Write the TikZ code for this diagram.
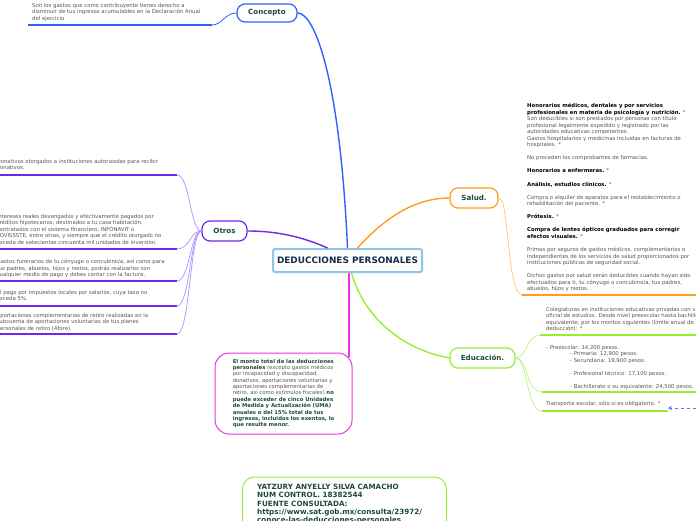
\documentclass[tikz,border=0pt]{standalone}
\usepackage{fontspec}
\setmainfont{DejaVu Sans}
\usetikzlibrary{arrows.meta}
\definecolor{cblue}{HTML}{3060FF}
\definecolor{corange}{HTML}{FF9D1C}
\definecolor{corangel}{HTML}{FFC880}
\definecolor{cgreen}{HTML}{99EE33}
\definecolor{cgreenl}{HTML}{C4F38C}
\definecolor{cpurple}{HTML}{6A2AE8}
\definecolor{cpurplel}{HTML}{B49AFF}
\definecolor{cpink}{HTML}{EE33DD}
\definecolor{ccentral}{HTML}{8EC5E8}
\definecolor{lgreen}{HTML}{1D4A3A}
\definecolor{cnavy}{HTML}{1B2B4D}
\definecolor{tgray}{HTML}{555555}
\definecolor{darrow}{HTML}{4A80E0}
\newcommand\hb[1]{\textbf{\color{black}#1}}
\newcommand\gb[1]{\textbf{\color{lgreen}#1}}
\begin{document}
\begin{tikzpicture}[x=1pt,y=-1pt,
  topic/.style={draw, rounded corners=8pt, line width=1.2pt, fill=white, inner sep=0pt,
    font=\bfseries\fontsize{7.1}{8}\selectfont, text=lgreen},
  txt/.style={inner sep=0pt, align=left, anchor=north west, text=tgray,
    font=\fontsize{5.35}{6.55}\selectfont},
  mainline/.style={line width=1.4pt},
  twig/.style={line width=0.8pt},
  uline/.style={line width=1.8pt}
]
\useasboundingbox (0,0) rectangle (696,520);
\clip (0,0) rectangle (696,520);

% central node
\node[draw=ccentral, line width=2pt, rounded corners=2pt, fill=white, minimum width=149pt, minimum height=23pt,
  inner sep=0pt, font=\bfseries\fontsize{8.9}{10}\selectfont, text=cnavy] (c) at (347.5,260.5) {DEDUCCIONES PERSONALES};

% topic nodes
\node[topic, draw=cblue, minimum width=60pt, minimum height=18pt] (concepto) at (267,13) {Concepto};
\node[topic, draw=corange, minimum width=48pt, minimum height=20pt] (salud) at (474,198) {Salud.};
\node[topic, draw=cgreen, minimum width=65pt, minimum height=20pt] (educ) at (482.5,358) {Educación.};
\node[topic, draw=cpurple, minimum width=45pt, minimum height=20pt] (otros) at (224.5,231) {Otros};

% main connectors
\draw[cblue, mainline] (c.north) .. controls (340,80) and (315,13) .. (concepto.east);
\draw[corange, mainline] ([xshift=10pt]c.north) .. controls (390,212) and (420,198) .. (salud.west);
\draw[cpurple, mainline] ([xshift=-20pt]c.north) .. controls (305,238) and (280,231) .. (otros.east);
\draw[cgreen, mainline] ([xshift=4pt]c.south) .. controls (365,320) and (405,350) .. (educ.west);

% pink node
\node[draw=cpink, line width=1pt, rounded corners=14pt, fill=white, minimum width=137pt, minimum height=81pt,
  inner sep=0pt, align=left, text=tgray, font=\fontsize{5.3}{6.35}\selectfont] (pink) at (283.5,393.5)
  {\gb{El monto total de las deducciones}\\
   \gb{personales} (excepto gastos médicos\\
   por incapacidad y discapacidad,\\
   donativos, aportaciones voluntarias y\\
   aportaciones complementarias de\\
   retiro, así como estímulos fiscales) \gb{no}\\
   \gb{puede exceder de cinco Unidades}\\
   \gb{de Medida y Actualización (UMA)}\\
   \gb{anuales o del 15\% total de tus}\\
   \gb{ingresos, incluidos los exentos, lo}\\
   \gb{que resulte menor.}};
\draw[cpink, mainline] ([xshift=1.5pt]c.south) -- ([xshift=1.5pt,yshift=-4pt]c.south |- pink.north);

% bottom node
\node[draw=cgreen, line width=1pt, rounded corners=12pt, minimum width=204pt, minimum height=62pt] (fuente) at (344.5,508) {};
\node[inner sep=0pt, align=left, anchor=north west, text=lgreen, font=\bfseries\fontsize{7.2}{8.3}\selectfont] (fuentetxt) at (257,484)
  {YATZURY ANYELLY SILVA CAMACHO\\
   NUM CONTROL. 18382544\\
   FUENTE CONSULTADA:\\
   https://www.sat.gob.mx/consulta/23972/\\
   conoce-las-deducciones-personales};

% Concepto branch
\coordinate (cu) at (212,25);
\coordinate (cu0) at (28,25);
\draw[cblue, twig] (concepto.west) .. controls (225,13) and (222,25) .. (cu);
\draw[cblue, uline] (cu) -- (cu0);
\node[txt] (conceptotxt) at (32,3) {Son los gastos que como contribuyente tienes derecho a\\
  disminuir de tus ingresos acumulables en la Declaración Anual\\
  del ejercicio};

% Salud branch
\coordinate (su) at (522,295);
\coordinate (su1) at (696,295);
\draw[corangel, twig] (salud.east) .. controls (510,198) and (506,292) .. (su);
\draw[corange, uline] (su) -- (su1);
\node[txt] (saludtxt) at (527,103) {%
  \hb{Honorarios médicos, dentales y por servicios}\\
  \hb{profesionales en materia de psicología y nutrición.} *\\
  Son deducibles si son prestados por personas con título\\
  profesional legalmente expedido y registrado por las\\
  autoridades educativas competentes.\\
  Gastos hospitalarios y medicinas incluidas en facturas de\\
  hospitales. *\\[6.55pt]
  No proceden los comprobantes de farmacias.\\[6.55pt]
  \hb{Honorarios a enfermeras.} *\\[6.55pt]
  \hb{Análisis, estudios clínicos.} *\\[6.55pt]
  Compra o alquiler de aparatos para el restablecimiento o\\
  rehabilitación del paciente. *\\[6.55pt]
  \hb{Prótesis.} *\\[6.55pt]
  \hb{Compra de lentes ópticos graduados para corregir}\\
  \hb{efectos visuales.} *\\[6.55pt]
  Primas por seguros de gastos médicos, complementarios o\\
  independientes de los servicios de salud proporcionados por\\
  instituciones públicas de seguridad social.\\[6.55pt]
  Dichos gastos por salud serán deducibles cuando hayan sido\\
  efectuados para ti, tu cónyuge o concubino/a, tus padres,\\
  abuelos, hijos y nietos.};

% Educacion branches
\coordinate (e1) at (540,335);
\coordinate (e1b) at (696,335);
\coordinate (e2) at (542,392);
\coordinate (e2b) at (696,392);
\coordinate (e3) at (542,411);
\coordinate (e3b) at (668,411);
\draw[cgreenl, twig] (educ.east) .. controls (527,358) and (526,336) .. (e1);
\draw[cgreenl, twig] (educ.east) .. controls (528,358) and (526,392) .. (e2);
\draw[cgreenl, twig] (educ.east) .. controls (528,358) and (526,411) .. (e3);
\draw[cgreen, uline] (e1) -- (e1b);
\draw[cgreen, uline] (e2) -- (e2b);
\draw[cgreen, uline] (e3) -- (e3b);
\node[txt] (edutxt) at (546,307) {Colegiaturas en instituciones educativas privadas con validez\\
  oficial de estudios. Desde nivel preescolar hasta bachillerato o su\\
  equivalente, por los montos siguientes (límite anual de\\
  deducción): *};
\node[txt] (edulist) at (546,345) {- Preescolar: 14,200 pesos.\\
  \hspace*{24pt}- Primaria: 12,900 pesos.\\
  \hspace*{24pt}- Secundaria: 19,900 pesos.\\[6.55pt]
  \hspace*{24pt}- Profesional técnico: 17,100 pesos.\\[6.55pt]
  \hspace*{24pt}- Bachillerato o su equivalente: 24,500 pesos.};
\node[txt] (transtxt) at (546,401) {Transporte escolar, sólo si es obligatorio. *};
\coordinate (arrstart) at (696,408);
\draw[darrow, line width=0.8pt, dashed, -{Stealth[length=4pt,width=4pt]}] (arrstart) -- (668,408);

% Otros branches
\foreach \yy/\nm in {175/o1, 249/o2, 281/o3, 306/o4, 334/o5}{
  \coordinate (\nm) at (177,\yy);
  \draw[cpurplel, twig] (otros.west) .. controls (190,231) and (190,\yy) .. (\nm);
  \draw[cpurple, uline] (\nm) -- (-5,\yy);
}
\node[txt] (ot1) at (-3.5,159) {Donativos otorgados a instituciones autorizadas para recibir\\
  donativos.};
\node[txt] (ot2) at (-3.5,214) {Intereses reales devengados y efectivamente pagados por\\
  créditos hipotecarios, destinados a tu casa habitación,\\
  contratados con el sistema financiero, INFONAVIT o\\
  FOVISSSTE, entre otras, y siempre que el crédito otorgado no\\
  exceda de setecientas cincuenta mil unidades de inversión.};
\node[txt] (ot3) at (-3.5,259) {Gastos funerarios de tu cónyuge o concubino/a, así como para\\
  tus padres, abuelos, hijos y nietos, podrás realizarlos con\\
  cualquier medio de pago y debes contar con la factura.};
\node[txt] (ot4) at (-3.5,290) {El pago por impuestos locales por salarios, cuya tasa no\\
  exceda 5\%.};
\node[txt] (ot5) at (-3.5,313) {Aportaciones complementarias de retiro realizadas en la\\
  subcuenta de aportaciones voluntarias de tus planes\\
  personales de retiro (Afore).};
\end{tikzpicture}
\end{document}
